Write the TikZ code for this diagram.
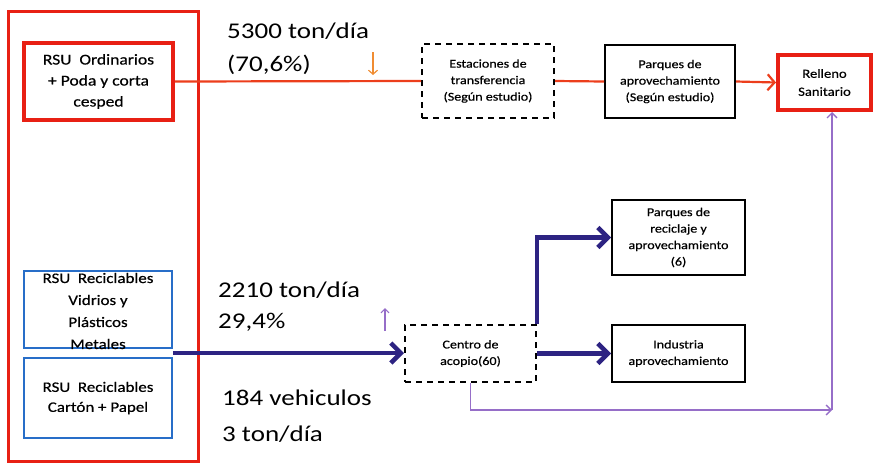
\documentclass[tikz,border=0pt]{standalone}
\usepackage{fontspec}
\setmainfont[FakeStretch=1.2]{Carlito}
\newfontfamily\boxfont[FakeStretch=1.17,FakeBold=0.5]{Carlito}
\usetikzlibrary{arrows.meta,calc}
\definecolor{redC}{RGB}{232,32,20}
\definecolor{redL}{RGB}{236,62,28}
\definecolor{blueC}{RGB}{40,110,200}
\definecolor{navyC}{RGB}{45,35,130}
\definecolor{purpleC}{RGB}{150,110,200}
\definecolor{orangeC}{RGB}{240,140,50}
\tikzset{
  anybox/.style={rectangle, inner sep=0pt, align=center},
  blackbox/.style={anybox, draw=black, line width=2pt, font=\boxfont\fontsize{12}{16.5}\selectfont},
  dashbox/.style={blackbox, dash pattern=on 6pt off 5pt},
  redbox/.style={anybox, draw=redC, line width=4pt},
  bluebox/.style={anybox, draw=blueC, line width=1.8pt},
  boxtext/.style={anybox, font=\boxfont\fontsize{14.5}{22}\selectfont},
  biglabel/.style={anchor=base west, inner sep=0pt, font=\fontsize{22.5}{26}\selectfont},
  redline/.style={draw=redL, line width=2.2pt},
  navyarrow/.style={draw=navyC, line width=4.5pt, -{Straight Barb[length=10pt, width=20pt, line width=4.5pt]}},
  purplearrow/.style={draw=purpleC, line width=1.3pt, -{Straight Barb[length=5pt, width=10pt, line width=1.3pt]}},
}
\begin{document}
\begin{tikzpicture}[x=1pt,y=-1pt]
\useasboundingbox (0,0) rectangle (874,464);
% outer red frame
\node[anybox, draw=redC, line width=3pt, minimum width=190pt, minimum height=450pt] (outer) at (103,236) {};
% top row
\node[redbox, minimum width=149pt, minimum height=77pt, font=\boxfont\fontsize{15}{21}\selectfont] (rsu1) at (98.5,81.5) {RSU\ \ Ordinarios\\+ Poda y corta\\cesped};
\node[dashbox, minimum width=132pt, minimum height=74pt] (est) at (488,81) {Estaciones de\\transferencia\\(Según estudio)};
\node[blackbox, minimum width=130pt, minimum height=73pt] (parq) at (670,81.5) {Parques de\\aprovechamiento\\(Según estudio)};
\node[redbox, minimum width=93pt, minimum height=55pt, font=\boxfont\fontsize{12.5}{18}\selectfont] (rell) at (824.5,82.5) {Relleno\\Sanitario};
% blue boxes
\node[bluebox, minimum width=148pt, minimum height=77pt] (rec1) at (98,309.5) {};
\node[boxtext] (rec1t) at (98,311) {RSU\ \ Reciclables\\Vidrios y\\Plásticos\\Metales};
\node[bluebox, minimum width=148pt, minimum height=80pt, font=\boxfont\fontsize{14.5}{20}\selectfont] (rec2) at (98,398) {RSU\ \ Reciclables\\Cartón + Papel};
% lower row
\node[dashbox, minimum width=131pt, minimum height=57pt] (centro) at (470.5,353.5) {Centro de\\acopio(60)};
\node[blackbox, minimum width=133pt, minimum height=75pt] (preci) at (678.5,237.5) {Parques de\\reciclaje y\\aprovechamiento\\(6)};
\node[blackbox, minimum width=133pt, minimum height=57pt] (indus) at (678.5,353.5) {Industria\\aprovechamiento};
% labels
\node[biglabel] (l1) at (227,38) {5300 ton/día};
\node[biglabel] (l2) at (227,71) {(70,6\%)};
\node[biglabel] (l3) at (218,297) {2210 ton/día};
\node[biglabel] (l4) at (218,328) {29,4\%};
\node[biglabel] (l5) at (222,405) {184 vehiculos};
\node[biglabel] (l6) at (222,441) {3 ton/día};
% small marker arrows
\coordinate (oa) at (373,52);
\coordinate (ob) at (373,75);
\draw[draw=orangeC, line width=1.2pt, -{Straight Barb[length=4pt, width=9pt, line width=1.2pt]}] (oa) -- (ob);
\coordinate (pa) at (385,331);
\coordinate (pb) at (385,308);
\draw[draw=purpleC, line width=1.2pt, -{Straight Barb[length=4pt, width=8pt, line width=1.2pt]}] (pa) -- (pb);
% connectors
\draw[redline] (rsu1.east) -- (est.west);
\draw[redline] (est.east) -- (parq.west);
\draw[redline, -{Straight Barb[length=7pt, width=16pt, line width=2.2pt]}] (parq.east) -- (rell.west);
\coordinate (recmid) at ($(rec1.south east)!0.5!(rec2.north east)$);
\draw[navyarrow] (recmid) -- (recmid -| centro.west);
\draw[navyarrow] (centro.north east) |- (preci.west);
\draw[navyarrow] (centro.east) -- (indus.west);
\coordinate (pc) at (832,410);
\draw[purplearrow] (centro.south) |- (pc);
\draw[purplearrow] (pc) -- (pc |- rell.south);
\end{tikzpicture}
\end{document}
